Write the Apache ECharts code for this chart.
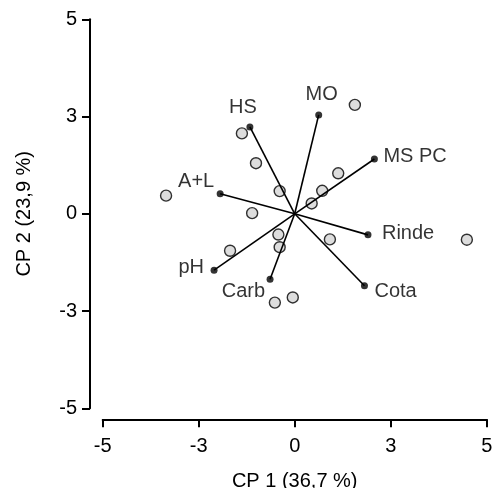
<!DOCTYPE html>
<html>
<head>
<meta charset="utf-8">
<script src="https://cdn.jsdelivr.net/npm/echarts@6/dist/echarts.min.js"></script>
<style>html,body{margin:0;padding:0;background:#fff}#c{width:492px;height:488px}</style>
</head>
<body>
<div id="c"></div>
<script>
// Variable vectors (loadings) - endpoints
const varNames = ['HS', 'MO', 'MS PC', 'A+L', 'Rinde', 'Cota', 'pH', 'Carb'];
const varX = [-1.40, 0.75, 2.49, -2.33, 2.29, 2.18, -2.52, -0.77];
const varY = [2.68, 3.05, 1.69, 0.62, -0.65, -2.22, -1.74, -2.02];

// Observation scores
const obsX = [-4.02, -1.65, -1.21, -0.47, 1.88, 1.36, 0.86, 0.53, -1.33, -0.51, -0.47, -2.02, 1.10, 5.38, -0.06, -0.62];
const obsY = [0.56, 2.48, 1.56, 0.70, 3.36, 1.25, 0.71, 0.32, 0.02, -0.64, -1.03, -1.14, -0.79, -0.80, -2.58, -2.74];

// Axis ticks (positions on the scale and their printed labels)
const tickValues = [-6, -3, 0, 3, 6];
const xTickLabels = ['-5', '-3', '0', '3', '5'];
const yTickLabels = ['-5', '-3', '0', '3', '5'];

const xTitle = 'CP 1 (36,7 %)';
const yTitle = 'CP 2 (23,9 %)';

// label placement (style only)
const labelStyle = {
  'HS':    {align: 'center', offset: [-7, -19]},
  'MO':    {align: 'center', offset: [3, -20]},
  'MS PC': {align: 'left',   offset: [9, -3]},
  'A+L':   {align: 'center', offset: [-24, -12]},
  'Rinde': {align: 'left',   offset: [14, -1]},
  'Cota':  {align: 'left',   offset: [10, 6]},
  'pH':    {align: 'right',  offset: [-10, -3]},
  'Carb':  {align: 'right',  offset: [-5, 12]}
};

const FONT = 'Liberation Sans, Arial, sans-serif';
const fmt = labels => v => { const i = tickValues.indexOf(v); return i >= 0 ? labels[i] : ''; };

const series = [];
series.push({
  type: 'scatter',
  z: 2,
  symbol: 'circle',
  symbolSize: 11,
  itemStyle: {color: '#d4d4d4', borderColor: '#000', borderWidth: 1.4},
  data: obsX.map((x, i) => [x, obsY[i]]),
  silent: true
});
varNames.forEach((n, i) => {
  series.push({
    type: 'line',
    z: 3,
    symbol: 'none',
    lineStyle: {color: '#000', width: 1.6},
    data: [[0, 0], [varX[i], varY[i]]],
    silent: true,
    animation: false
  });
});
series.push({
  type: 'scatter',
  z: 4,
  symbol: 'circle',
  symbolSize: 7,
  itemStyle: {color: '#000'},
  data: varNames.map((n, i) => ({
    value: [varX[i], varY[i]],
    name: n,
    label: {
      show: true,
      position: 'inside',
      formatter: n,
      align: labelStyle[n].align,
      verticalAlign: 'middle',
      offset: labelStyle[n].offset,
      color: '#000',
      fontSize: 20,
      fontFamily: FONT
    }
  })),
  silent: true
});

const chart = echarts.init(document.getElementById('c'), null, {renderer: 'canvas'});
chart.setOption({
  animation: false,
  backgroundColor: '#fff',
  grid: {left: 102.7, right: 5.3, top: 19.3, bottom: 79.7, containLabel: false, outerBoundsMode: 'none'},
  xAxis: {
    type: 'value', min: -6, max: 6, interval: 3,
    offset: 11,
    splitLine: {show: false},
    axisLine: {show: true, onZero: false, lineStyle: {color: '#000', width: 2}},
    axisTick: {show: true, length: 8, lineStyle: {color: '#000', width: 2}},
    axisLabel: {formatter: fmt(xTickLabels), color: '#000', fontSize: 20, fontFamily: FONT, margin: 17, showMinLabel: true, showMaxLabel: true},
    name: xTitle, nameLocation: 'middle', nameGap: 52,
    nameTextStyle: {color: '#000', fontSize: 20, fontFamily: FONT}
  },
  yAxis: {
    type: 'value', min: -6, max: 6, interval: 3,
    offset: 12.7,
    splitLine: {show: false},
    axisLine: {show: true, onZero: false, lineStyle: {color: '#000', width: 2}},
    axisTick: {show: true, length: 8, lineStyle: {color: '#000', width: 2}},
    axisLabel: {formatter: fmt(yTickLabels), color: '#000', fontSize: 20, fontFamily: FONT, margin: 13, showMinLabel: true, showMaxLabel: true},
    name: yTitle, nameLocation: 'middle', nameGap: 56,
    nameTextStyle: {color: '#000', fontSize: 20, fontFamily: FONT}
  },
  series: series
});
</script>
</body>
</html>
